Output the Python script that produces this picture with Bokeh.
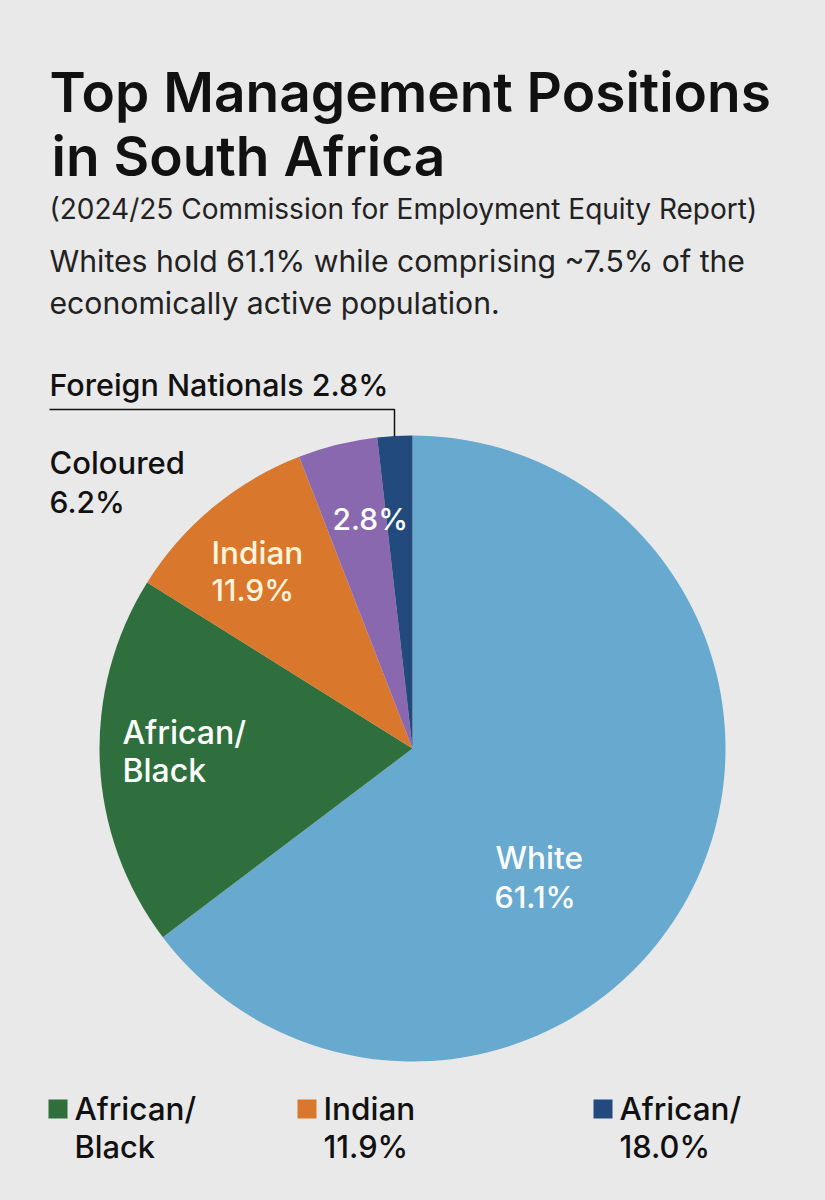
from math import pi
from bokeh.plotting import figure
from bokeh.embed import file_html
from bokeh.resources import INLINE
from bokeh.core.properties import value

# Slice order runs clockwise from 12 o'clock; shares are as drawn in the picture
categories = ["White", "African/Black", "Indian", "Coloured", "Foreign Nationals"]
shares = [64.7, 19.2, 10.2, 4.1, 1.8]
colors = ["#67a9cf", "#2f6f3e", "#d9782c", "#8a68b0", "#234a7c"]
title_lines = ["Top Management Positions", "in South Africa"]
subtitle = "(2024/25 Commission for Employment Equity Report)"
description = ["Whites hold 61.1% while comprising ~7.5% of the", "economically active population."]
legend_lines = [["African/", "Black"], ["Indian", "11.9%"], ["African/", "18.0%"]]
legend_colors = ["#2f6f3e", "#d9782c", "#234a7c"]

BG = "#e9e9e9"
FONT = "Inter"
MEDIUM = "Inter Medium, Inter"
SEMI = "Inter SemiBold, Inter Semi Bold, Inter"
W, H = 809, 1184
p = figure(width=W, height=H, x_range=(0, W), y_range=(0, H), output_backend="svg",
           toolbar_location=None, x_axis_type=None, y_axis_type=None,
           background_fill_color=BG, border_fill_color=BG, outline_line_color=None, min_border=0)
p.grid.visible = False

def Y(ref_y):
    return H - ref_y

# pie
total = sum(shares)
angle = pi / 2
for share, color in zip(shares, colors):
    end = angle - 2 * pi * share / total
    p.wedge(x=[412], y=[Y(748)], radius=313, start_angle=[end], end_angle=[angle], color=color, line_color=None)
    angle = end

def put(x, y, s, size, color="#111111", style="normal", font=MEDIUM):
    # the renderer's alphabetic anchor sits about 0.38 em above the baseline
    p.text(x=[x], y=[Y(y - 0.38 * size)], text=[s], text_font=value(font), text_font_size=f"{size}px", text_color=color,
           text_font_style=style, text_baseline="alphabetic", text_align="left")

put(49, 112, title_lines[0], 55, font=SEMI)
put(51, 176, title_lines[1], 55, font=SEMI)
put(49, 219, subtitle, 28, color="#222222", font=FONT)
put(49, 272, description[0], 30.2, color="#222222", font=FONT)
put(49, 314, description[1], 30.2, color="#222222", font=FONT)

# outside labels and leader
put(49, 396, "Foreign Nationals 2.8%", 30.5)
put(49, 474, "Coloured", 31)
put(49, 513, "6.2%", 30)
p.line(x=[49, 394, 394], y=[Y(409), Y(409), Y(436)], line_color="#111111", line_width=1.5)

# slice labels
W_TXT = "#ffffff"
put(495, 869, "White", 31.5, W_TXT)
put(494, 908, "61.1%", 30.5, W_TXT)
put(122, 744, "African/", 32, W_TXT)
put(122, 782, "Black", 32, W_TXT)
put(211, 564, "Indian", 31.5, "#fff4dc")
put(211, 601, "11.9%", 30, "#fff4dc")
put(332, 530, "2.8%", 30, W_TXT)

# legend
for x, lines, c in zip([48, 297, 593], legend_lines, legend_colors):
    p.quad(left=[x], right=[x + 19], top=[Y(1099)], bottom=[Y(1118)], color=c, line_color=None)
    put(x + 26, 1120, lines[0], 31.5)
    put(x + 26, 1158, lines[1], 30.8)

html = file_html(p, INLINE)
html = html.replace("<head>", f"<head><style>html,body{{background:{BG}}}</style>", 1)
open("out.html", "w").write(html)
